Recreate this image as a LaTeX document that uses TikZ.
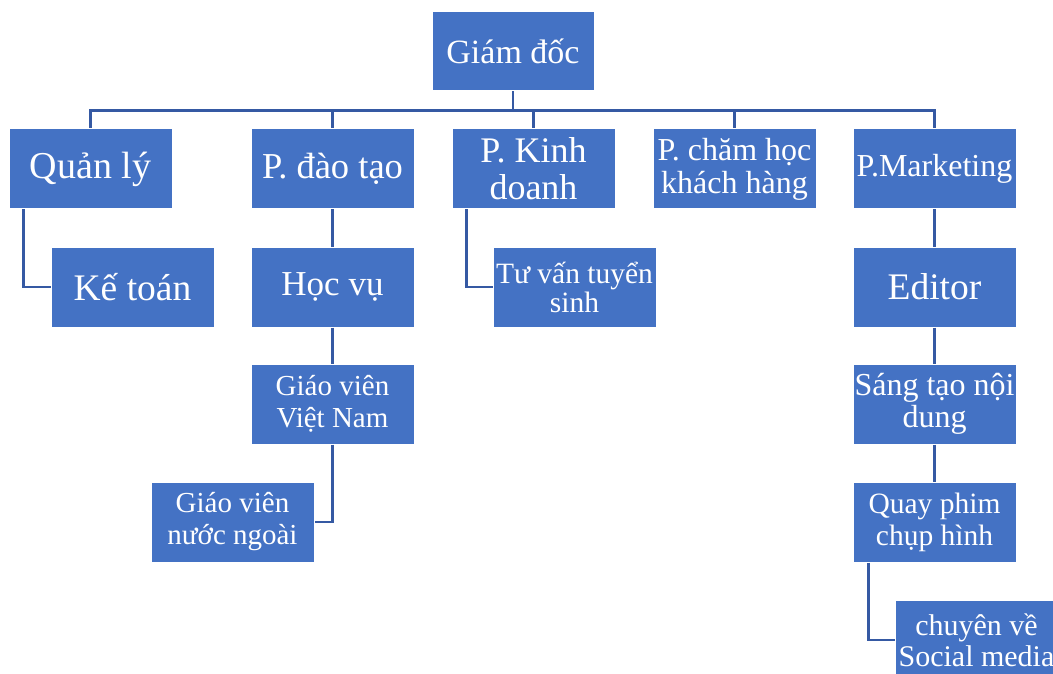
\documentclass[tikz,border=0pt]{standalone}
\usepackage{fontspec}
\setmainfont{Liberation Serif}
\definecolor{boxblue}{HTML}{4472C4}
\definecolor{lineblue}{HTML}{3559A3}
\begin{document}
\begin{tikzpicture}[x=1pt,y=-1pt,
  box/.style={rectangle, fill=boxblue, draw=white, line width=1pt, text=white,
    minimum width=163pt, minimum height=80pt, inner sep=0pt, align=center},
  conn/.style={draw=lineblue, line width=2.5pt}]
\useasboundingbox (0,0) rectangle (1053,674);
% nodes
\node[box, minimum width=162pt, minimum height=79pt, font=\fontsize{34}{36}\selectfont] (gd) at (513,51.5) {Giám đốc};
\node[box, font=\fontsize{38}{40}\selectfont] (ql) at (90.5,169) {Quản lý};
\node[box, font=\fontsize{36.5}{38}\selectfont] (pdt) at (332.5,169) {P. đào tạo};
\node[box, font=\fontsize{36}{37}\selectfont] (pkd) at (533.5,169) {P. Kinh\\doanh};
\node[box, font=\fontsize{32}{33}\selectfont] (pch) at (734.5,169) {P. chăm học\\khách hàng};
\node[box, font=\fontsize{32}{33}\selectfont] (pmk) at (934.5,169) {P.Marketing};
\node[box, font=\fontsize{37.5}{38}\selectfont] (kt) at (132.5,287) {Kế toán};
\node[box, font=\fontsize{35}{36}\selectfont] (hv) at (332.5,287) {Học vụ};
\node[box, font=\fontsize{29.5}{29}\selectfont] (tv) at (574.5,287) {Tư vấn tuyển\\sinh};
\node[box, font=\fontsize{37.5}{38}\selectfont] (ed) at (934.5,287) {Editor};
\node[box, font=\fontsize{29}{32}\selectfont] (gvvn) at (332.5,404) {Giáo viên\\Việt Nam};
\node[box, font=\fontsize{32}{32}\selectfont] (stnd) at (934.5,404) {Sáng tạo nội\\dung};
\node[box, font=\fontsize{29}{32}\selectfont] (gvnn) at (232.5,522) {Giáo viên\\nước ngoài};
\node[box, font=\fontsize{29.5}{32}\selectfont] (qp) at (934.5,522) {Quay phim\\chụp hình};
\node[box, font=\fontsize{30}{31}\selectfont] (cv) at (976.5,640) {chuyên về\\Social media};
% connectors
\draw[conn] (gd.south) -- ++(0,19) -| (ql.north);
\draw[conn] (gd.south) -- ++(0,19) -| (pdt.north);
\draw[conn] (gd.south) -- ++(0,19) -| (pkd.north);
\draw[conn] (gd.south) -- ++(0,19) -| (pch.north);
\draw[conn] (gd.south) -- ++(0,19) -| (pmk.north);
\draw[conn] ([xshift=15pt]ql.south west) |- (kt.west);
\draw[conn] (pdt.south) -- (hv.north);
\draw[conn] (hv.south) -- (gvvn.north);
\draw[conn] (gvvn.south) |- (gvnn.east);
\draw[conn] ([xshift=15pt]pkd.south west) |- (tv.west);
\draw[conn] (pmk.south) -- (ed.north);
\draw[conn] (ed.south) -- (stnd.north);
\draw[conn] (stnd.south) -- (qp.north);
\draw[conn] ([xshift=16pt]qp.south west) |- (cv.west);
\end{tikzpicture}
\end{document}
